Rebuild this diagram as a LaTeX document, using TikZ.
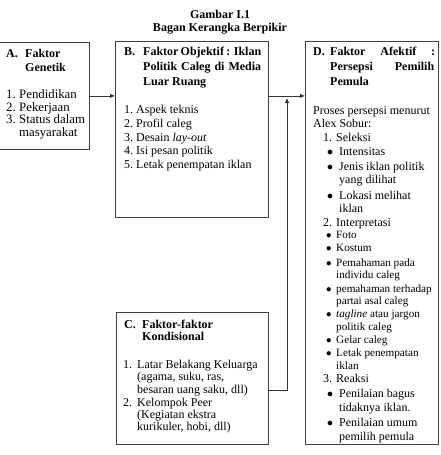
\documentclass[tikz,border=0pt]{standalone}
\usepackage{fontspec}
\setmainfont{Liberation Serif}
\usetikzlibrary{arrows.meta}
\newcommand\TL[4]{\node[txt] (#1) at (#2,#3) {#4};}
\newcommand\TS[4]{\node[txts] (#1) at (#2,#3) {#4};}
\newcommand\TW[4]{\node[txtw] (#1) at (#2,#3) {#4};}
\newcommand\bul{$\bullet$}
\begin{document}
\begin{tikzpicture}[x=1pt,y=-1pt,
  box/.style={draw=black!75, line width=0.8pt, inner sep=0pt, anchor=north west},
  txt/.style={anchor=base west, inner sep=0pt, font=\fontsize{12}{14}\selectfont},
  txtw/.style={anchor=base west, inner sep=0pt, font=\fontsize{12.8}{14}\selectfont},
  txts/.style={anchor=base west, inner sep=0pt, font=\fontsize{11.2}{13}\selectfont},
  hd/.style={anchor=base west, inner sep=0pt, font=\fontsize{12}{14}\selectfont\bfseries},
  arr/.style={draw=black!80, line width=0.8pt, -{Latex[length=5pt,width=4.5pt]}},
  ln/.style={draw=black!80, line width=0.8pt}]
\useasboundingbox (0,0) rectangle (440,455);

% title
\node[hd, anchor=base] (t1) at (220,18) {Gambar I.1};
\node[hd, anchor=base] (t2) at (220,31) {Bagan Kerangka Berpikir};

% boxes
\node[box, minimum width=91pt, minimum height=107pt] (A) at (-2,42) {};
\node[box, minimum width=153pt, minimum height=176pt] (B) at (115,41) {};
\node[box, minimum width=152pt, minimum height=132pt] (C) at (116,312) {};
\node[box, minimum width=133pt, minimum height=403pt] (D) at (305,41) {};

% connectors
\coordinate (up) at (287,98);
\draw[arr] (A.east) -- (B.west |- A.east);
\draw[arr] (B.east |- A.east) -- (D.west |- A.east);
\draw[arr] ([yshift=-12pt]C.east) -| (up);

% box A
\node[hd] (a1) at (6,57) {A.};
\node[hd] (a2) at (25,57) {Faktor};
\node[hd] (a3) at (25,71) {Genetik};
\TW{a4}{6}{98}{1.}   \TW{a5}{19}{98}{Pendidikan}
\TW{a6}{6}{111}{2.}  \TW{a7}{19}{111}{Pekerjaan}
\TW{a8}{6}{123}{3.}  \TW{a9}{19}{123}{Status dalam}
\TW{a10}{19}{136}{masyarakat}

% box B
\node[hd] (b1) at (124,55) {B.};
\node[hd] (b2) at (143,55) {\makebox[118pt][s]{Faktor Objektif : Iklan}};
\node[hd] (b3) at (143,70) {\makebox[118pt][s]{Politik Caleg di Media}};
\node[hd] (b4) at (143,85) {Luar Ruang};
\TL{b5}{124}{113}{1.}  \TL{b6}{136}{113}{Aspek teknis}
\TL{b7}{124}{127}{2.}  \TL{b8}{136}{127}{Profil caleg}
\TL{b9}{124}{141}{3.}  \TL{b10}{136}{141}{Desain \textit{lay-out}}
\TL{b11}{124}{154}{4.} \TL{b12}{136}{154}{Isi pesan politik}
\TL{b13}{124}{168}{5.} \TL{b14}{136}{168}{Letak penempatan iklan}

% box C
\node[hd] (c1) at (124,328) {C.};
\node[hd] (c2) at (142,328) {Faktor-faktor};
\node[hd] (c3) at (142,340) {Kondisional};
\TL{c4}{123}{368}{1.}  \TL{c5}{137}{368}{Latar Belakang Keluarga}
\TL{c6}{137}{380}{(agama, suku, ras,}
\TL{c7}{137}{393}{besaran uang saku, dll)}
\TL{c8}{123}{406}{2.}  \TL{c9}{137}{406}{Kelompok Peer}
\TL{c10}{137}{418}{(Kegiatan ekstra}
\TL{c11}{137}{430}{kurikuler, hobi, dll)}

% box D
\node[hd] (d1) at (313,55) {D.};
\node[hd] (d2) at (330,55) {\makebox[105pt][s]{Faktor Afektif :}};
\node[hd] (d3) at (330,70) {\makebox[104pt][s]{Persepsi Pemilih}};
\node[hd] (d4) at (330,85) {Pemula};
\TL{d5}{313}{114}{Proses persepsi menurut}
\TL{d6}{313}{127}{Alex Sobur:}
\TL{d7}{323}{141}{1. Seleksi}
\TL{d8}{327}{155}{\bul}  \TL{d9}{339}{155}{Intensitas}
\TL{d10}{327}{170}{\bul} \TL{d11}{339}{170}{Jenis iklan politik}
\TL{d12}{339}{183}{yang dilihat}
\TL{d13}{327}{199}{\bul} \TL{d14}{339}{199}{Lokasi melihat}
\TL{d15}{339}{212}{iklan}
\TL{d16}{323}{226}{2. Interpretasi}
\TS{d17}{326}{238}{\bul} \TS{d18}{336}{238}{Foto}
\TS{d19}{326}{251}{\bul} \TS{d20}{336}{251}{Kostum}
\TS{d21}{326}{266}{\bul} \TS{d22}{336}{266}{Pemahaman pada}
\TS{d23}{336}{278}{individu caleg}
\TS{d24}{326}{292}{\bul} \TS{d25}{336}{292}{pemahaman terhadap}
\TS{d26}{336}{304}{partai asal caleg}
\TS{d27}{326}{317}{\bul} \TS{d28}{336}{317}{\textit{tagline} atau jargon}
\TS{d29}{336}{330}{politik caleg}
\TS{d30}{326}{343}{\bul} \TS{d31}{336}{343}{Gelar caleg}
\TS{d32}{326}{356}{\bul} \TS{d33}{336}{356}{Letak penempatan}
\TS{d34}{336}{369}{iklan}
\TL{d35}{323}{382}{3. Reaksi}
\TL{d36}{327}{397}{\bul} \TL{d37}{339}{397}{Penilaian bagus}
\TL{d38}{339}{411}{tidaknya iklan.}
\TL{d39}{327}{426}{\bul} \TL{d40}{339}{426}{Penilaian umum}
\TL{d41}{339}{440}{pemilih pemula}
\end{tikzpicture}
\end{document}
